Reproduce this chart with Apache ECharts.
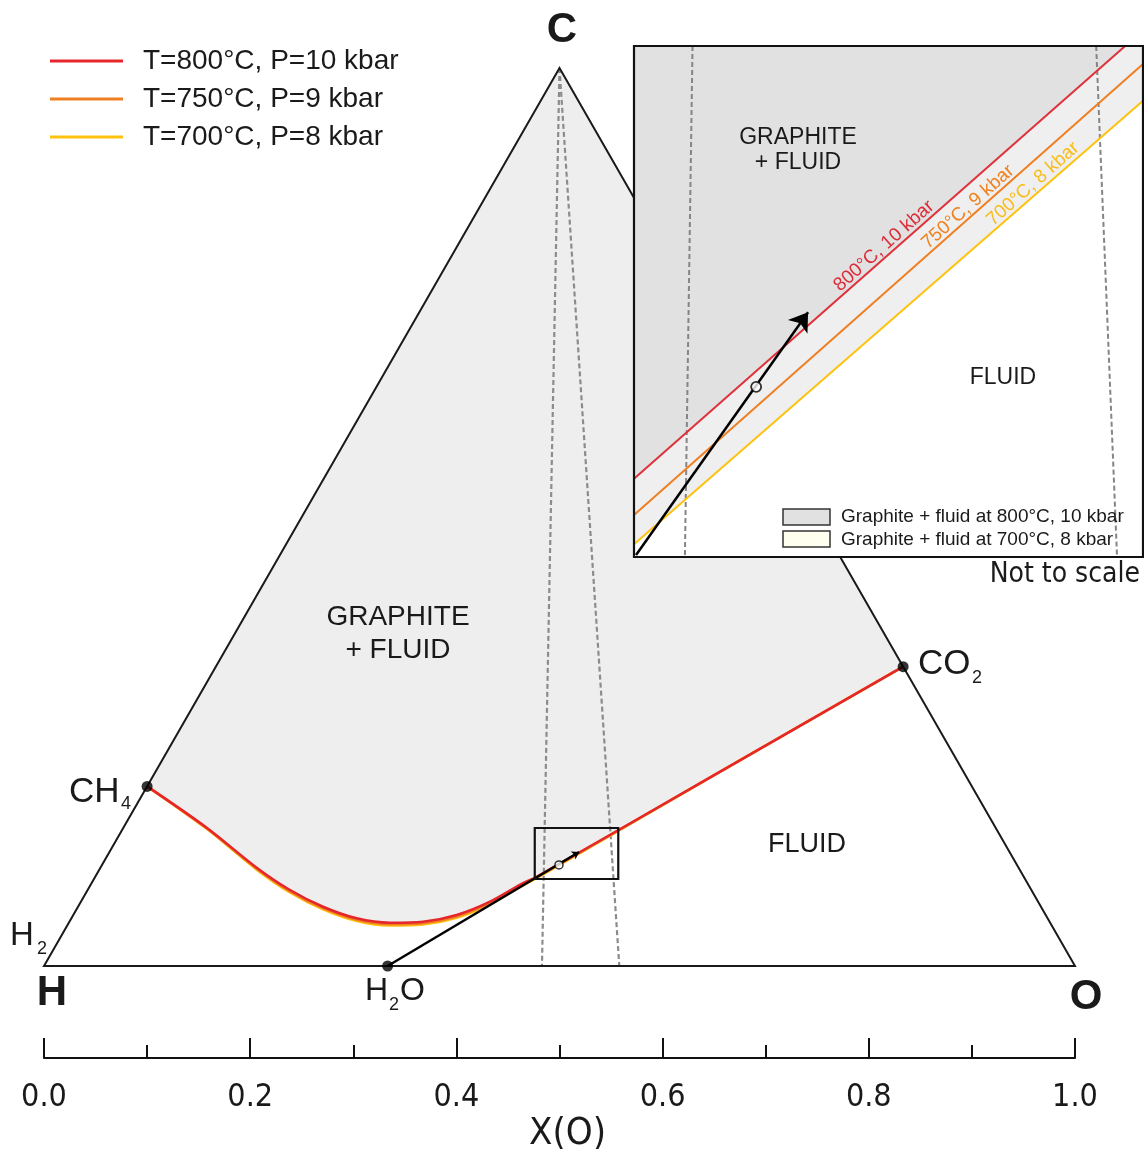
<!DOCTYPE html>
<html><head><meta charset="utf-8">
<script src="https://cdn.jsdelivr.net/npm/echarts@6/dist/echarts.min.js"></script>
<style>html,body{margin:0;padding:0;background:#fff}#c{width:1144px;height:1149px}</style>
</head><body><div id="c"></div>
<script>
// ---------------- DATA ----------------
// Main ternary diagram: x = position along H–O base (X(O) scale), y = X(C)
const vertexH = [0, 0];
const vertexO = [1, 0];
const vertexC = [0.5, 1];
const pointCH4 = [0.1, 0.2];
const pointCO2 = [0.8333, 0.3333];
const pointH2O = [0.3333, 0];

const boundaryX   = [0.1, 0.1578, 0.2063, 0.2386, 0.2706, 0.3033, 0.3356, 0.3676, 0.4003, 0.4326, 0.4646, 0.4779, 0.65, 0.8333];
const red800Y     = [0.2, 0.1540, 0.1095, 0.0846, 0.0660, 0.0531, 0.0482, 0.0493, 0.0568, 0.0716, 0.0924, 0.0994, 0.2126, 0.3333];
const orange750Y  = [0.2, 0.1533, 0.1083, 0.0831, 0.0644, 0.0514, 0.0465, 0.0476, 0.0551, 0.0700, 0.0910, 0.0986, 0.2126, 0.3333];
const yellow700Y  = [0.2, 0.1527, 0.1073, 0.0818, 0.0630, 0.0500, 0.0450, 0.0461, 0.0536, 0.0686, 0.0898, 0.0978, 0.2126, 0.3333];

const dashBaseX = [0.483, 0.558];          // X(O) of the two dashed rays from C
const tieStart  = [0.3333, 0];
const tieEnd    = [0.519, 0.127];
const tieCircle = [0.4995, 0.1125];
const zoomBoxMin = [0.476, 0.0969];
const zoomBoxMax = [0.557, 0.1537];

const axisTickValues = [0, 0.2, 0.4, 0.6, 0.8, 1.0];

// Inset (not to scale), arbitrary 0–100 frame
const insetRed    = [[0, 15.3], [96.5, 100]];
const insetOrange = [[0, 8.2], [100, 96.5]];
const insetYellow = [[0, 2.5], [100, 89.3]];
const insetDashL  = [[11.5, 100], [10.0, 0]];
const insetDashR  = [[90.8, 100], [94.9, 0]];
const insetArrowStart = [0.4, 0.4];
const insetArrowEnd   = [34.2, 47.9];
const insetCircle     = [24.0, 33.3];

const seriesNames = ['T=800°C, P=10 kbar', 'T=750°C, P=9 kbar', 'T=700°C, P=8 kbar'];
const COL_RED = '#e5262b', COL_ORANGE = '#f07f22', COL_YELLOW = '#ffc20e';

// ---------------- HELPERS ----------------
const F = 'Liberation Sans, Arial, Helvetica, sans-serif';
const FN = '"Liberation Sans Narrow", "Arial Narrow", "DejaVu Sans Condensed", sans-serif';

function polySeries(points, style, gi, z, closed) {
  return {
    type: 'custom', xAxisIndex: gi, yAxisIndex: gi, z: z, silent: true,
    data: [[points[0][0], points[0][1]]],
    renderItem: function (params, api) {
      return {
        type: closed === false ? 'polyline' : 'polygon',
        shape: { points: points.map(p => api.coord(p)) },
        style: style
      };
    }
  };
}
function zip(xs, ys) { return xs.map((x, i) => [x, ys[i]]); }

const redPts = zip(boundaryX, red800Y);
const fillPts = [vertexC].concat(redPts);

const dashStyle = { stroke: '#8c8c8c', lineWidth: 2.2, lineDash: [5, 3], fill: null };
const insetDashStyle = { stroke: '#858585', lineWidth: 2, lineDash: [5, 3], fill: null };

function curve(name, ys, color, z) {
  return {
    name: name, type: 'line', xAxisIndex: 0, yAxisIndex: 0, z: z,
    data: zip(boundaryX, ys), smooth: 0.3, symbol: 'none', silent: true,
    lineStyle: { color: color, width: 2.5 }, itemStyle: { color: color }
  };
}
function insetLine(pts, color) {
  return {
    type: 'line', xAxisIndex: 2, yAxisIndex: 2, z: 23, data: pts, symbol: 'none', silent: true,
    lineStyle: { color: color, width: 2 }
  };
}
function txt(x, y, text, size, opts) {
  opts = opts || {};
  return {
    type: 'text', x: x, y: y, z: 100, rotation: opts.rotation || 0, silent: true,
    style: {
      text: text, fontSize: size, fontFamily: opts.family || F, fontWeight: opts.weight || 'normal',
      fill: opts.color || '#1a1a1a', align: opts.align || 'left', verticalAlign: 'middle'
    }
  };
}

const chart = echarts.init(document.getElementById('c'), null, { renderer: 'canvas' });

const option = {
  backgroundColor: '#ffffff',
  animation: false,
  legend: {
    orient: 'vertical', left: 50, top: 47, padding: 0, icon: 'rect',
    itemWidth: 73, itemHeight: 3, itemGap: 10,
    data: seriesNames, selectedMode: false,
    textStyle: { fontSize: 28, fontFamily: F, color: '#1a1a1a', lineHeight: 28, padding: [0, 0, 0, 15] }
  },
  grid: [
    { left: 44, right: 69, top: 68, bottom: 183, outerBoundsMode: 'none' },
    { left: 44, right: 69, top: 1000, bottom: 91, outerBoundsMode: 'none' },
    { left: 634, top: 46, width: 509, height: 511, outerBoundsMode: 'none' }
  ],
  xAxis: [
    { gridIndex: 0, type: 'value', min: 0, max: 1, show: false },
    {
      gridIndex: 1, type: 'value', min: 0, max: 1, interval: 0.2,
      axisLine: { show: true, lineStyle: { color: '#111', width: 2 } },
      axisTick: { show: true, inside: true, length: 20, lineStyle: { color: '#111', width: 2 } },
      minorTick: { show: true, splitNumber: 2, length: 13, lineStyle: { color: '#111', width: 2 } },
      splitLine: { show: false },
      axisLabel: {
        margin: 24, fontSize: 32, fontFamily: FN, color: '#1a1a1a',
        formatter: v => (axisTickValues.some(t => Math.abs(t - v) < 1e-9) ? v.toFixed(1) : '')
      },
      name: 'X(O)', nameLocation: 'middle', nameGap: 56,
      nameTextStyle: { fontSize: 38, fontFamily: FN, color: '#1a1a1a', padding: [0, 0, 0, 16] }
    },
    { gridIndex: 2, type: 'value', min: 0, max: 100, show: false }
  ],
  yAxis: [
    { gridIndex: 0, type: 'value', min: 0, max: 1, show: false },
    { gridIndex: 1, type: 'value', min: 0, max: 1, show: false },
    { gridIndex: 2, type: 'value', min: 0, max: 100, show: false }
  ],
  series: [
    // graphite + fluid field
    polySeries(fillPts, { fill: '#eeeeee', stroke: null }, 0, 1),
    // dashed rays from C
    polySeries([vertexC, [dashBaseX[0], 0]], dashStyle, 0, 2, false),
    polySeries([vertexC, [dashBaseX[1], 0]], dashStyle, 0, 2, false),
    // boundary curves
    curve(seriesNames[2], yellow700Y, COL_YELLOW, 3),
    curve(seriesNames[1], orange750Y, COL_ORANGE, 3),
    curve(seriesNames[0], red800Y, COL_RED, 3),
    // triangle
    polySeries([vertexH, vertexC, vertexO], { fill: null, stroke: '#1a1a1a', lineWidth: 2 }, 0, 4),
    // tie line with arrow
    {
      type: 'lines', coordinateSystem: 'cartesian2d', xAxisIndex: 0, yAxisIndex: 0, z: 5, silent: true,
      symbol: ['none', 'arrow'], symbolSize: 7,
      lineStyle: { color: '#000', width: 2.5, opacity: 1, curveness: 0 },
      data: [{ coords: [tieStart, tieEnd] }]
    },
    // zoom box
    polySeries([zoomBoxMin, [zoomBoxMax[0], zoomBoxMin[1]], zoomBoxMax, [zoomBoxMin[0], zoomBoxMax[1]]],
      { fill: null, stroke: '#111', lineWidth: 2.2 }, 0, 5),
    // composition points
    {
      type: 'scatter', xAxisIndex: 0, yAxisIndex: 0, z: 6, silent: true, symbolSize: 11,
      itemStyle: { color: '#000' }, data: [pointCH4, pointCO2, pointH2O]
    },
    {
      type: 'scatter', xAxisIndex: 0, yAxisIndex: 0, z: 6, silent: true, symbolSize: 8,
      itemStyle: { color: '#fff', borderColor: '#000', borderWidth: 1.5 }, data: [tieCircle]
    },
    // ---------- inset ----------
    polySeries([[0, 0], [100, 0], [100, 100], [0, 100]], { fill: '#ffffff', stroke: null }, 2, 20),
    polySeries([insetRed[0], insetRed[1], [0, 100]], { fill: '#e1e1e1', stroke: null }, 2, 21),
    polySeries([insetRed[0], insetRed[1], [100, 100], insetYellow[1], insetYellow[0]], { fill: '#efefef', stroke: null }, 2, 21),
    polySeries(insetDashL, insetDashStyle, 2, 22, false),
    polySeries(insetDashR, insetDashStyle, 2, 22, false),
    insetLine(insetYellow, COL_YELLOW),
    insetLine(insetOrange, COL_ORANGE),
    insetLine(insetRed, '#e0303a'),
    {
      type: 'lines', coordinateSystem: 'cartesian2d', xAxisIndex: 2, yAxisIndex: 2, z: 24, silent: true,
      symbol: ['none', 'arrow'], symbolSize: 18,
      lineStyle: { color: '#000', width: 2.5, opacity: 1, curveness: 0 },
      data: [{ coords: [insetArrowStart, insetArrowEnd] }]
    },
    {
      type: 'scatter', xAxisIndex: 2, yAxisIndex: 2, z: 25, silent: true, symbolSize: 10,
      itemStyle: { color: '#fff', borderColor: '#000', borderWidth: 1.8 }, data: [insetCircle]
    },
    polySeries([[0, 0], [100, 0], [100, 100], [0, 100]], { fill: null, stroke: '#111', lineWidth: 2.2 }, 2, 26)
  ],
  graphic: {
    elements: [
      txt(562, 30, 'C', 42, { weight: 'bold', align: 'center' }),
      txt(52, 993, 'H', 42, { weight: 'bold', align: 'center' }),
      txt(1086, 997, 'O', 42, { weight: 'bold', align: 'center' }),
      txt(10, 936, 'H', 33),
      txt(37, 949, '2', 18),
      txt(69, 792, 'CH', 35),
      txt(121, 804, '4', 18),
      txt(918, 664, 'CO', 35),
      txt(972, 678, '2', 18),
      txt(365, 991, 'H', 32),
      txt(389, 1005, '2', 18),
      txt(400, 991, 'O', 32),
      txt(398, 617, 'GRAPHITE', 28, { align: 'center' }),
      txt(398, 650, '+ FLUID', 28, { align: 'center' }),
      txt(807, 845, 'FLUID', 27, { align: 'center' }),
      // inset texts
      txt(798, 138, 'GRAPHITE', 23, { align: 'center' }),
      txt(798, 163, '+ FLUID', 23, { align: 'center' }),
      txt(1003, 378, 'FLUID', 23, { align: 'center' }),
      txt(884, 246, '800°C, 10 kbar', 19, { align: 'center', color: '#dd2c37', rotation: 0.726 }),
      txt(968, 207, '750°C, 9 kbar', 19, { align: 'center', color: '#f0821e', rotation: 0.726 }),
      txt(1033, 184, '700°C, 8 kbar', 19, { align: 'center', color: '#f8bd1c', rotation: 0.726 }),
      {
        type: 'rect', z: 100, silent: true, shape: { x: 783, y: 509, width: 47, height: 16 },
        style: { fill: '#e1e1e1', stroke: '#333', lineWidth: 1.5 }
      },
      {
        type: 'rect', z: 100, silent: true, shape: { x: 783, y: 531, width: 47, height: 16 },
        style: { fill: '#fffff0', stroke: '#333', lineWidth: 1.5 }
      },
      txt(841, 517, 'Graphite + fluid at 800°C, 10 kbar', 19),
      txt(841, 540, 'Graphite + fluid at 700°C, 8 kbar', 19),
      txt(1140, 575, 'Not to scale', 28, { align: 'right', family: FN })
    ]
  }
};
chart.setOption(option);
</script>
</body></html>
